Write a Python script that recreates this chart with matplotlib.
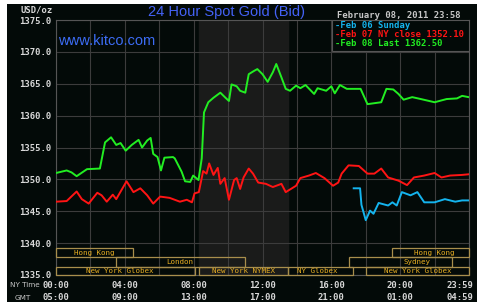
import matplotlib.pyplot as plt
from matplotlib.patches import Rectangle
import matplotlib.transforms as mtransforms

# hours after midnight, New York time
feb08_t = [0, 0.62, 0.9, 1.2, 1.8, 2.55, 2.85, 3.2, 3.5, 3.75, 4.05, 4.4, 4.8, 5.0,
           5.3, 5.5, 5.65, 5.9, 6.1, 6.3, 6.8, 6.9, 7.3, 7.5, 7.8, 7.97, 8.28, 8.47,
           8.6, 8.85, 9.15, 9.55, 9.85, 10.05, 10.2, 10.5, 10.7, 11.0, 11.2, 11.5,
           11.7, 12.0, 12.3, 12.6, 12.8, 13.1, 13.35, 13.6, 13.95, 14.2, 14.5, 15.0,
           15.2, 15.7, 16.0, 16.2, 16.5, 16.9, 17.7, 18.1, 18.9, 19.2, 19.6, 19.9,
           20.2, 20.7, 21.2, 22.0, 22.7, 23.3, 23.6, 23.98]
feb08_p = [1351.0, 1351.4, 1351.1, 1350.5, 1351.6, 1351.7, 1355.8, 1356.6, 1355.4,
           1355.7, 1354.5, 1355.4, 1356.2, 1355.0, 1356.1, 1356.5, 1354.0, 1353.5,
           1351.4, 1353.4, 1353.5, 1353.3, 1351.2, 1349.7, 1349.6, 1350.6, 1349.9,
           1353.3, 1360.5, 1362.1, 1362.8, 1363.6, 1362.8, 1362.3, 1364.9, 1364.6,
           1363.9, 1363.6, 1366.5, 1367.0, 1367.3, 1366.5, 1365.3, 1366.8, 1368.1,
           1366.0, 1364.2, 1363.9, 1364.7, 1364.3, 1364.8, 1363.4, 1364.3, 1363.9,
           1364.6, 1363.5, 1364.8, 1364.2, 1364.2, 1361.8, 1362.1, 1364.2, 1364.1,
           1363.4, 1362.5, 1362.9, 1362.6, 1362.1, 1362.6, 1362.7, 1363.1, 1362.9]

feb07_t = [0, 0.62, 1.2, 1.5, 1.9, 2.4, 2.65, 2.95, 3.3, 3.5, 4.1, 4.5, 4.9, 5.3,
           5.65, 6.05, 6.6, 7.2, 7.6, 7.9, 8.05, 8.3, 8.55, 8.75, 8.9, 9.15, 9.4,
           9.55, 9.8, 10.05, 10.35, 10.5, 10.7, 10.9, 11.2, 11.45, 11.75, 12.2, 12.6,
           13.1, 13.35, 13.95, 14.2, 14.7, 15.1, 15.6, 16.1, 16.4, 16.6, 17.0, 17.6,
           18.1, 18.5, 18.9, 19.3, 19.9, 20.4, 20.8, 21.4, 22.0, 22.4, 22.9, 23.6, 23.98]
feb07_p = [1346.5, 1346.6, 1348.1, 1346.9, 1346.2, 1347.9, 1347.5, 1346.5, 1347.6,
           1346.9, 1349.7, 1348.0, 1348.6, 1347.5, 1346.2, 1347.3, 1347.1, 1346.5,
           1346.8, 1346.4, 1347.8, 1348.0, 1351.3, 1350.9, 1352.5, 1350.7, 1351.8,
           1349.3, 1350.2, 1346.8, 1349.9, 1350.2, 1348.5, 1350.3, 1351.7, 1350.9,
           1349.5, 1349.3, 1348.8, 1349.3, 1348.0, 1349.0, 1350.2, 1350.6, 1351.0,
           1350.2, 1349.0, 1349.5, 1350.9, 1352.2, 1352.1, 1350.9, 1350.9, 1351.7,
           1350.3, 1349.8, 1349.1, 1350.3, 1350.6, 1351.0, 1350.3, 1350.6, 1350.7, 1350.8]

feb06_t = [17.3, 17.67, 17.75, 18.0, 18.25, 18.45, 18.75, 19.3, 19.55, 19.8, 20.1,
           20.6, 21.0, 21.4, 22.0, 22.6, 23.2, 23.6, 23.98]
feb06_p = [1348.6, 1348.6, 1346.0, 1343.6, 1345.1, 1344.6, 1346.3, 1345.9, 1346.4,
           1345.9, 1348.0, 1347.5, 1348.0, 1346.4, 1346.4, 1346.9, 1346.5, 1346.7, 1346.7]

tick_hours = [0, 4, 8, 12, 16, 20, 23.983]
ny_labels = ['00:00', '04:00', '08:00', '12:00', '16:00', '20:00', '23:59']
gmt_labels = ['05:00', '09:00', '13:00', '17:00', '21:00', '01:00', '04:59']

# trading sessions: name, open, close, row, label centre
session_names = ['Hong Kong', 'Hong Kong', 'London', 'Sydney', 'New York Globex',
                 'New York NYMEX', 'NY Globex', 'New York Globex']
session_open = [0, 19.5, 3.5, 17.0, 0, 8.33, 13.5, 18.0]
session_close = [4.5, 24, 11.0, 23.0, 8.1, 13.5, 17.25, 24]
session_row = [2, 2, 1, 1, 0, 0, 0, 0]
session_lab = [2.2, 22.0, 7.2, 21.0, 3.7, 10.9, 15.2, 21.0]

bg = '#030a08'
mono = 'DejaVu Sans Mono'
txt = '#d8d8d8'

fig = plt.figure(figsize=(4.8, 3.06), dpi=100, facecolor='white')
fig.patches.append(Rectangle((7 / 480, 4 / 306), 470 / 480, 298 / 306,
                             transform=fig.transFigure, facecolor=bg,
                             edgecolor='none', zorder=-10))

ax = fig.add_axes([56 / 480, 1 - 275 / 306, 413 / 480, 255 / 306])
ax.set_facecolor(bg)
ax.set_xlim(0, 24)
ax.set_ylim(1335, 1375)

# NYMEX pit hours shading
ax.axvspan(8.33, 13.5, color='#1a1b1a', zorder=0.5)

ax.set_xticks(range(0, 25, 2))
ax.set_xticklabels([])
ax.set_yticks(range(1335, 1376, 5))
ax.set_yticklabels(['%.1f' % v for v in range(1335, 1376, 5)],
                   family=mono, fontweight='bold', fontsize=6.4, color=txt)
ax.tick_params(length=0, pad=3)
ax.grid(True, color='#3c3c3c', lw=0.8, zorder=1)
for s in ax.spines.values():
    s.set_color('#555555')
    s.set_linewidth(0.8)

ax.plot(feb07_t, feb07_p, color='#ff1414', lw=1.4, zorder=3)
ax.plot(feb08_t, feb08_p, color='#22ee22', lw=1.4, zorder=3)
ax.plot(feb06_t, feb06_p, color='#14b4ee', lw=1.4, zorder=3)

# session boxes
row_bottom = [1335.0, 1336.3, 1337.75]
row_h = [1.3, 1.45, 1.45]
for name, a, b, r, lx in zip(session_names, session_open, session_close,
                            session_row, session_lab):
    ax.add_patch(Rectangle((a, row_bottom[r]), b - a, row_h[r], fill=False,
                           edgecolor='#a88e4c', lw=0.9, zorder=4, clip_on=False))
    ax.text(lx, row_bottom[r] + row_h[r] / 2, name, ha='center', va='center',
            family=mono, fontsize=5.4, color='#e8ae22', zorder=5)

# x labels, two rows
trans = mtransforms.blended_transform_factory(ax.transData, fig.transFigure)
for i, (h, a, g) in enumerate(zip(tick_hours, ny_labels, gmt_labels)):
    ha = 'right' if i == len(tick_hours) - 1 else 'center'
    x = 24.23 if ha == 'right' else h
    ax.text(x, 1 - 285 / 306, a, transform=trans, ha=ha, va='center',
            family=mono, fontweight='bold', fontsize=6.4, color=txt)
    ax.text(x, 1 - 297.5 / 306, g, transform=trans, ha=ha, va='center',
            family=mono, fontweight='bold', fontsize=6.4, color=txt)
fig.text(10 / 480, 1 - 285 / 306, 'NY Time', ha='left', va='center',
         fontsize=5.2, color='#c8c8c8')
fig.text(22.5 / 480, 1 - 297.5 / 306, 'GMT', ha='center', va='center',
         fontsize=5.2, color='#c8c8c8')
fig.text(53 / 480, 1 - 10 / 306, 'USD/oz', ha='right', va='center',
         family=mono, fontweight='bold', fontsize=6.4, color=txt)

# titles
fig.text(226 / 480, 1 - 12 / 306, '24 Hour Spot Gold (Bid)', ha='center',
         va='center', family='Liberation Sans', fontsize=10.5, color='#4462f6')
fig.text(58 / 480, 1 - 41 / 306, 'www.kitco.com', ha='left', va='center',
         family='Liberation Sans', fontsize=10.5, color='#3c6cf4')
fig.text(460.5 / 480, 1 - 15.3 / 306, 'February 08, 2011 23:58', ha='right',
         va='center', family=mono, fontweight='bold', fontsize=6.4, color='#c8c8c8')

# legend box
ax.add_patch(Rectangle((16.05, 1370.15), 24 - 16.05, 4.85, facecolor=bg,
                       edgecolor='#555555', lw=0.8, zorder=6))
leg_text = ['Feb 06 Sunday', 'Feb 07 NY close 1352.10', 'Feb 08 Last 1362.50']
leg_col = ['#14b4ee', '#ff1414', '#22ee22']
leg_y = [25.7, 34.7, 44.0]
for t, c, y in zip(leg_text, leg_col, leg_y):
    fig.text(335 / 480, 1 - y / 306, '-' + t, ha='left', va='center', family=mono,
             fontweight='bold', fontsize=6.4, color=c, zorder=7)

fig.savefig('out.png', dpi=100, facecolor='white')
